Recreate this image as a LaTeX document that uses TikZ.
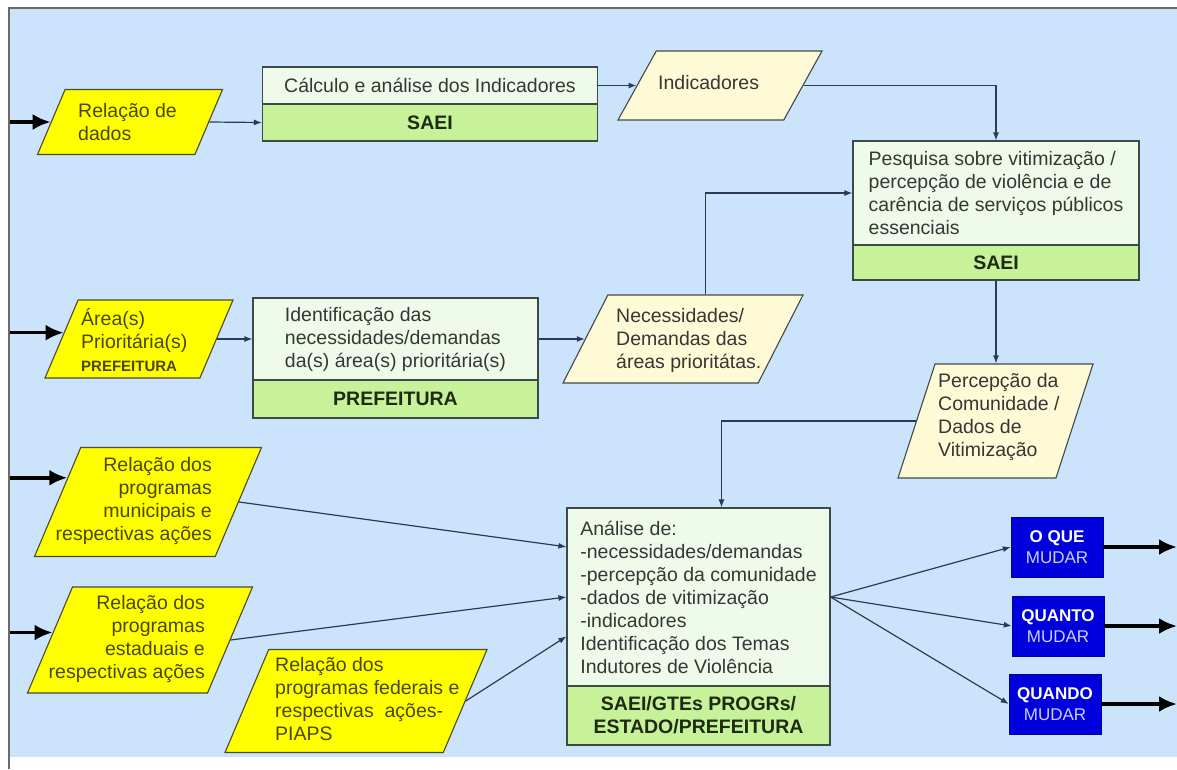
\documentclass[tikz,border=0pt]{standalone}
\usepackage{fontspec}
\setmainfont{Liberation Sans}
\usetikzlibrary{calc,arrows.meta}
\usetikzlibrary{shapes.geometric}
\definecolor{fl-bg}{HTML}{CCE4FB}
\definecolor{fl-frame}{HTML}{6A6A6A}
\definecolor{fl-yellow}{HTML}{FFFF00}
\definecolor{fl-srcedge}{HTML}{4A4A30}
\definecolor{fl-srctext}{HTML}{4B4700}
\definecolor{fl-cream}{HTML}{FFFAD6}
\definecolor{fl-task}{HTML}{EFFBEA}
\definecolor{fl-who}{HTML}{C8F299}
\definecolor{fl-edge}{HTML}{3E4A48}
\definecolor{fl-text}{HTML}{363636}
\definecolor{fl-whotext}{HTML}{1E2A12}
\definecolor{fl-line}{HTML}{2E3A55}
\definecolor{fl-blue}{HTML}{0000DD}
\definecolor{fl-light}{HTML}{C8D0FF}
\newcommand{\flsize}{\fontsize{19.5}{23}\selectfont}

\begin{document}
\begin{tikzpicture}[x=1pt, y=-1pt,
    iobox/.style={trapezium, trapezium left angle=67, trapezium right angle=113,
        trapezium stretches body, inner xsep=0pt, line width=1.1pt},
    srcbox/.style={iobox, draw=fl-srcedge, fill=fl-yellow},
    resbox/.style={iobox, draw=fl-edge, fill=fl-cream},
    iotext/.style={inner sep=0pt, font=\flsize, align=left, text=fl-text},
    srctext/.style={iotext, text=fl-srctext},
    tasktop/.style={rectangle, draw=fl-edge, fill=fl-task, line width=1.1pt,
        font=\flsize, align=left, text=fl-text},
    taskwho/.style={rectangle, draw=fl-edge, fill=fl-who, line width=1.1pt,
        font=\flsize\bfseries, align=center, text=fl-whotext},
    outbox/.style={rectangle, draw=fl-blue!70!black, fill=fl-blue, minimum width=92pt,
        minimum height=60pt, font=\fontsize{17}{21}\selectfont, align=center, text=white},
    flow/.style={draw=fl-line, line width=1.2pt, -{Latex[length=8pt, width=6pt]}},
    feed/.style={draw=black, line width=3.5pt, -{Latex[length=18pt, width=16pt]}}
]
    \useasboundingbox (0,0) rectangle (1177,769);
    % background and frame
    \fill[fl-bg] (9,8) rectangle (1177,757);
    \draw[fl-frame, line width=1.5pt] (1177,8) -- (9,8) -- (9,769);
    \coordinate (frame-left) at (10,0);
    \coordinate (frame-right) at (1177,0);

    % --- Data sources (left column) ---
    \node[srcbox, minimum width=185pt, inner ysep=32.5pt] (dados) at (130,122) {};
    \node[srctext, anchor=west] (dados-txt) at (78,122) {Relação de\\dados};
    \node[srcbox, minimum width=188pt, inner ysep=39pt] (area) at (139,339) {};
    \node[srctext, anchor=west] (area-txt) at (81,340)
        {Área(s)\\Prioritária(s)\\{\fontsize{15}{17}\selectfont\bfseries PREFEITURA}};
    \node[srcbox, minimum width=227pt, inner ysep=54.5pt] (munic) at (148,502) {};
    \node[srctext, align=right, anchor=east] (munic-txt) at (212,501)
        {Relação dos\\programas\\municipais e\\respectivas ações};
    \node[srcbox, minimum width=225pt, inner ysep=53pt] (estad) at (140,640) {};
    \node[srctext, align=right, anchor=east] (estad-txt) at (205,639)
        {Relação dos\\programas\\estaduais e\\respectivas ações};
    \node[srcbox, minimum width=262pt, inner ysep=51.5pt] (fed) at (356,701) {};
    \node[srctext, anchor=west] (fed-txt) at (275,699)
        {Relação dos\\programas federais e\\respectivas \ ações-\\PIAPS};

    % --- Process boxes ---
    \node[tasktop, minimum width=335pt, minimum height=37pt] (calctask) at (430,85.5)
        {Cálculo e análise dos Indicadores};
    \node[taskwho, minimum width=335pt, minimum height=37pt] (calcwho) at (430,122.5) {SAEI};
    \node[tasktop, minimum width=286pt, minimum height=104pt] (pesqtask) at (996,193)
        {Pesquisa sobre vitimização /\\percepção de violência e de\\carência de serviços públicos\\essenciais};
    \node[taskwho, minimum width=286pt, minimum height=35pt] (pesqwho) at (996,262.5) {SAEI};
    \node[tasktop, minimum width=285pt, minimum height=82pt] (identtask) at (395.5,339)
        {Identificação das\\necessidades/demandas\\da(s) área(s) prioritária(s)};
    \node[taskwho, minimum width=285pt, minimum height=38pt] (identwho) at (395.5,399) {PREFEITURA};
    \node[tasktop, minimum width=263pt, minimum height=178pt] (analtask) at (698.5,597)
        {Análise de:\\-necessidades/demandas\\-percepção da comunidade\\-dados de vitimização\\-indicadores\\Identificação dos Temas\\Indutores de Violência};
    \node[taskwho, minimum width=263pt, minimum height=59pt] (analwho) at (698.5,715.5)
        {SAEI/GTEs PROGRs/\\ESTADO/PREFEITURA};

    % --- Intermediate results ---
    \node[resbox, trapezium left angle=61, trapezium right angle=119,
        minimum width=204pt, inner ysep=34.5pt] (indic) at (720,85.5) {};
    \node[iotext, anchor=west] (indic-txt) at (658,83) {Indicadores};
    \node[resbox, trapezium left angle=63, trapezium right angle=117,
        minimum width=240pt, inner ysep=44pt] (neces) at (683,339) {};
    \node[iotext, anchor=west] (neces-txt) at (616,340)
        {Necessidades/\\Demandas das\\áreas prioritátas.};
    \node[resbox, trapezium left angle=72, trapezium right angle=108,
        minimum width=195pt, inner ysep=57pt] (percep) at (995.5,421) {};
    \node[iotext, anchor=west] (percep-txt) at (938,417)
        {Percepção da\\Comunidade /\\Dados de\\Vitimização};

    % --- Outcomes ---
    \node[outbox] (what) at (1057,547) {\textbf{O QUE}\\{\color{fl-light}MUDAR}};
    \node[outbox] (howmuch) at (1058,626) {\textbf{QUANTO}\\{\color{fl-light}MUDAR}};
    \node[outbox] (when) at (1055,704) {\textbf{QUANDO}\\{\color{fl-light}MUDAR}};

    % --- External inputs ---
    \coordinate (dados-in) at ($(dados.bottom left corner)!.5!(dados.top left corner)$);
    \coordinate (area-in) at ($(area.bottom left corner)!.58!(area.top left corner)$);
    \coordinate (munic-in) at ($(munic.bottom left corner)!.72!(munic.top left corner)$);
    \coordinate (estad-in) at ($(estad.bottom left corner)!.57!(estad.top left corner)$);
    \foreach \src in {dados, area, munic, estad}
        \draw[feed] (\src-in -| frame-left) -- (\src-in);

    % --- Flow connectors ---
    \draw[flow] (dados.right side) -- (calcwho.west);
    \draw[flow] (calctask.east) -- (indic.left side);
    \draw[flow] (indic.right side) -| (pesqtask.north);
    \draw[flow] (area.right side) -- (identtask.west);
    \draw[flow] (identtask.east) -- (neces.left side);
    \draw[flow] (neces.top side) |- (pesqtask.west);
    \draw[flow] (pesqwho.south) -- (pesqwho.south |- percep.top side);
    \draw[flow] (percep.left side) -| ([xshift=23pt]analtask.north);

    \coordinate (anal-a) at ($(analtask.north west)!.22!(analtask.south west)$);
    \coordinate (anal-b) at ($(analtask.north west)!.5!(analtask.south west)$);
    \coordinate (anal-c) at ($(analtask.north west)!.72!(analtask.south west)$);
    \draw[flow] (munic.right side) -- (anal-a);
    \draw[flow] (estad.right side) -- (anal-b);
    \draw[flow] (fed.right side) -- (anal-c);

    % --- Outcomes ---
    \foreach \out in {what, howmuch, when} {
        \draw[flow] (analtask.east) -- (\out.west);
        \draw[feed] (\out.east) -- (\out.east -| frame-right);
    }
\end{tikzpicture}
\end{document}
